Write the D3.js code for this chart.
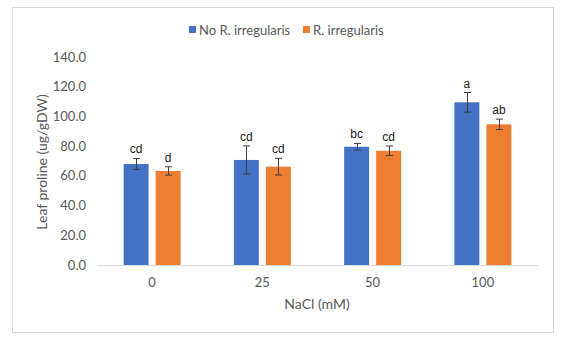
<!DOCTYPE html>
<html><head><meta charset="utf-8">
<script src="https://cdn.jsdelivr.net/npm/d3@7"></script>
<style>body{margin:0;background:#fff}</style>
</head><body>
<svg id="c" width="567" height="340"></svg>
<script>
const categories = ["0", "25", "50", "100"];
const seriesNames = ["No R. irregularis", "R. irregularis"];
const noRirr = [68.0, 70.7, 79.6, 109.5];
const noRirrErr = [3.7, 9.5, 2.2, 6.6];
const rirr = [63.3, 66.2, 76.9, 94.7];
const rirrErr = [2.8, 5.6, 3.2, 3.5];
const noRirrLetters = ["cd", "cd", "bc", "a"];
const rirrLetters = ["d", "cd", "cd", "ab"];
const yTicks = [0, 20, 40, 60, 80, 100, 120, 140];
const colors = ["#4472C4", "#ED7D31"];

const svg = d3.select("#c");
svg.append("rect").attr("x", 12.5).attr("y", 7.5).attr("width", 541).attr("height", 325)
  .attr("fill", "#fff").attr("stroke", "#d9d9d9");

const x = d3.scaleBand().domain(categories).range([97, 538]).paddingInner(0).paddingOuter(0);
const xs = d3.scaleBand().domain([0, 1]).range([0, 57]).paddingInner(0.22);
const y = d3.scaleLinear().domain([0, 140]).range([265, 57]);

const series = [
  {vals: noRirr, err: noRirrErr, let: noRirrLetters},
  {vals: rirr, err: rirrErr, let: rirrLetters}
];

// y tick labels
svg.append("g").selectAll("text").data(yTicks).join("text")
  .attr("x", 86).attr("y", d => y(d)).attr("dy", "0.35em")
  .attr("text-anchor", "end").attr("font-family", "Lato, 'Open Sans', sans-serif")
  .attr("font-size", 13).attr("fill", "#595959").text(d => d.toFixed(1));

// x axis line
svg.append("line").attr("x1", 97).attr("x2", 538).attr("y1", y(0) + 0.5).attr("y2", y(0) + 0.5)
  .attr("stroke", "#d9d9d9").attr("stroke-width", 1);

series.forEach((s, si) => {
  const g = svg.append("g");
  const bx = (i) => x(categories[i]) + (x.bandwidth() - 57) / 2 + xs(si);
  g.selectAll("rect").data(s.vals).join("rect")
    .attr("x", (d, i) => bx(i)).attr("width", xs.bandwidth())
    .attr("y", d => y(d)).attr("height", d => y(0) - y(d))
    .attr("fill", colors[si]);
  const cx = (i) => bx(i) + xs.bandwidth() / 2;
  const eg = g.append("g").attr("stroke", "#404040").attr("stroke-width", 1);
  s.vals.forEach((v, i) => {
    const t = y(v + s.err[i]), b = y(v - s.err[i]), c = Math.round(cx(i)) + 0.5;
    eg.append("line").attr("x1", c).attr("x2", c).attr("y1", t).attr("y2", b);
    eg.append("line").attr("x1", c - 3.5).attr("x2", c + 3.5).attr("y1", t).attr("y2", t);
    eg.append("line").attr("x1", c - 3.5).attr("x2", c + 3.5).attr("y1", b).attr("y2", b);
  });
  g.selectAll("text.lt").data(s.let).join("text").attr("class", "lt")
    .attr("x", (d, i) => cx(i)).attr("y", (d, i) => y(s.vals[i] + s.err[i]) - 5)
    .attr("text-anchor", "middle").attr("font-family", "Liberation Sans, Arial, sans-serif")
    .attr("font-size", 12).attr("fill", "#1a1a1a").text(d => d);
});

// x tick labels
svg.append("g").selectAll("text").data(categories).join("text")
  .attr("x", d => x(d) + x.bandwidth() / 2).attr("y", 287)
  .attr("text-anchor", "middle").attr("font-family", "Lato, 'Open Sans', sans-serif")
  .attr("font-size", 13).attr("fill", "#595959").text(d => d);

// axis titles
svg.append("text").attr("x", 317).attr("y", 309).attr("text-anchor", "middle")
  .attr("font-family", "Lato, 'Open Sans', sans-serif").attr("font-size", 14)
  .attr("fill", "#595959").text("NaCl (mM)");
svg.append("text").attr("transform", "translate(47,162) rotate(-90)").attr("text-anchor", "middle")
  .attr("font-family", "Lato, 'Open Sans', sans-serif").attr("font-size", 14)
  .attr("fill", "#595959").text("Leaf proline (ug/gDW)");

// legend
const leg = svg.append("g");
const legX = [189, 303];
seriesNames.forEach((n, i) => {
  leg.append("rect").attr("x", legX[i]).attr("y", 26).attr("width", 7).attr("height", 7).attr("fill", colors[i]);
  leg.append("text").attr("x", legX[i] + 10).attr("y", 30).attr("dy", "0.35em")
    .attr("font-family", "Lato, 'Open Sans', sans-serif").attr("font-size", 13)
    .attr("fill", "#595959").text(n);
});
</script>
</body></html>
